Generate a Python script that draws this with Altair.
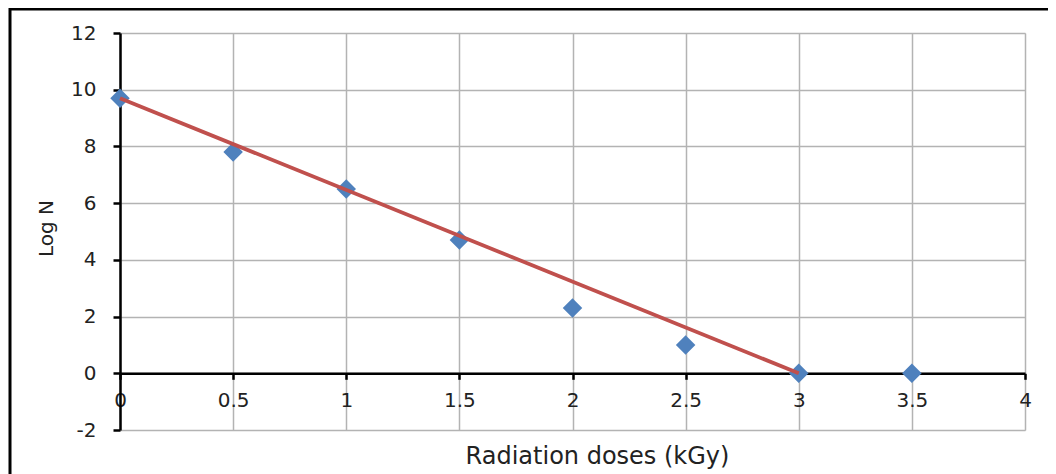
import altair as alt
import pandas as pd

# Data
dose = [0, 0.5, 1, 1.5, 2, 2.5, 3, 3.5]
log_n = [9.7, 7.8, 6.5, 4.7, 2.3, 1.0, 0.0, 0.0]
trend_dose = [0, 3]
trend_log_n = [9.7, 0.0]
x_ticks = [0, 0.5, 1, 1.5, 2, 2.5, 3, 3.5, 4]
y_ticks = [-2, 0, 2, 4, 6, 8, 10, 12]

FONT = "DejaVu Sans"

pts = pd.DataFrame({"dose": dose, "logN": log_n})
trend = pd.DataFrame({"dose": trend_dose, "logN": trend_log_n})

xscale = alt.Scale(domain=[0, 4], nice=False, zero=False)
yscale = alt.Scale(domain=[-2, 12], nice=False, zero=False)

x_axis = alt.Axis(
    values=x_ticks, offset=-56.7, grid=True, gridColor="#b3b3b3", gridWidth=1.5,
    domainColor="black", domainWidth=2.5, tickColor="black", tickWidth=2.5, tickSize=6,
    labelFont=FONT, labelFontSize=20, labelColor="#222222", labelPadding=11,
    labelFlush=False, labelExpr="'' + datum.value",
    title="Radiation doses (kGy)", titleFont=FONT, titleFontSize=24,
    titleFontWeight="normal", titleColor="#222222", titleX=477, titleY=71,
)
y_axis = alt.Axis(
    values=y_ticks, grid=True, gridColor="#b3b3b3", gridWidth=1.5,
    domainColor="black", domainWidth=2.5, tickColor="black", tickWidth=2.5, tickSize=7,
    labelFont=FONT, labelFontSize=20, labelColor="#222222", labelPadding=17,
    labelExpr="'' + datum.value",
    title="Log N", titleFont=FONT, titleFontSize=20, titleFontWeight="normal",
    titleColor="#222222", titlePadding=14, titleY=195,
)

points = alt.Chart(pts).mark_point(
    shape="diamond", filled=True, color="#4F81BD", size=380, opacity=1
).encode(
    x=alt.X("dose:Q", scale=xscale, axis=x_axis),
    y=alt.Y("logN:Q", scale=yscale, axis=y_axis),
)

line = alt.Chart(trend).mark_line(color="#C0504D", strokeWidth=3.8).encode(
    x=alt.X("dose:Q", scale=xscale),
    y=alt.Y("logN:Q", scale=yscale),
)

frame_data = pd.DataFrame({"k": [0]})
frame_left = alt.Chart(frame_data).mark_rule(color="black", strokeWidth=3).encode(
    x=alt.value(-110), y=alt.value(-25), y2=alt.value(1000)
)
frame_top = alt.Chart(frame_data).mark_rule(color="black", strokeWidth=3).encode(
    x=alt.value(-111), x2=alt.value(2000), y=alt.value(-24)
)

chart = alt.layer(points, line, frame_left, frame_top).properties(
    width=905, height=397,
    autosize=alt.AutoSizeParams(type="none"),
    padding={"left": 112, "top": 25, "right": 23, "bottom": 44},
).configure_view(stroke=None).configure(background="white")

chart.save("out.html", embed_options={"renderer": "svg", "actions": False})
